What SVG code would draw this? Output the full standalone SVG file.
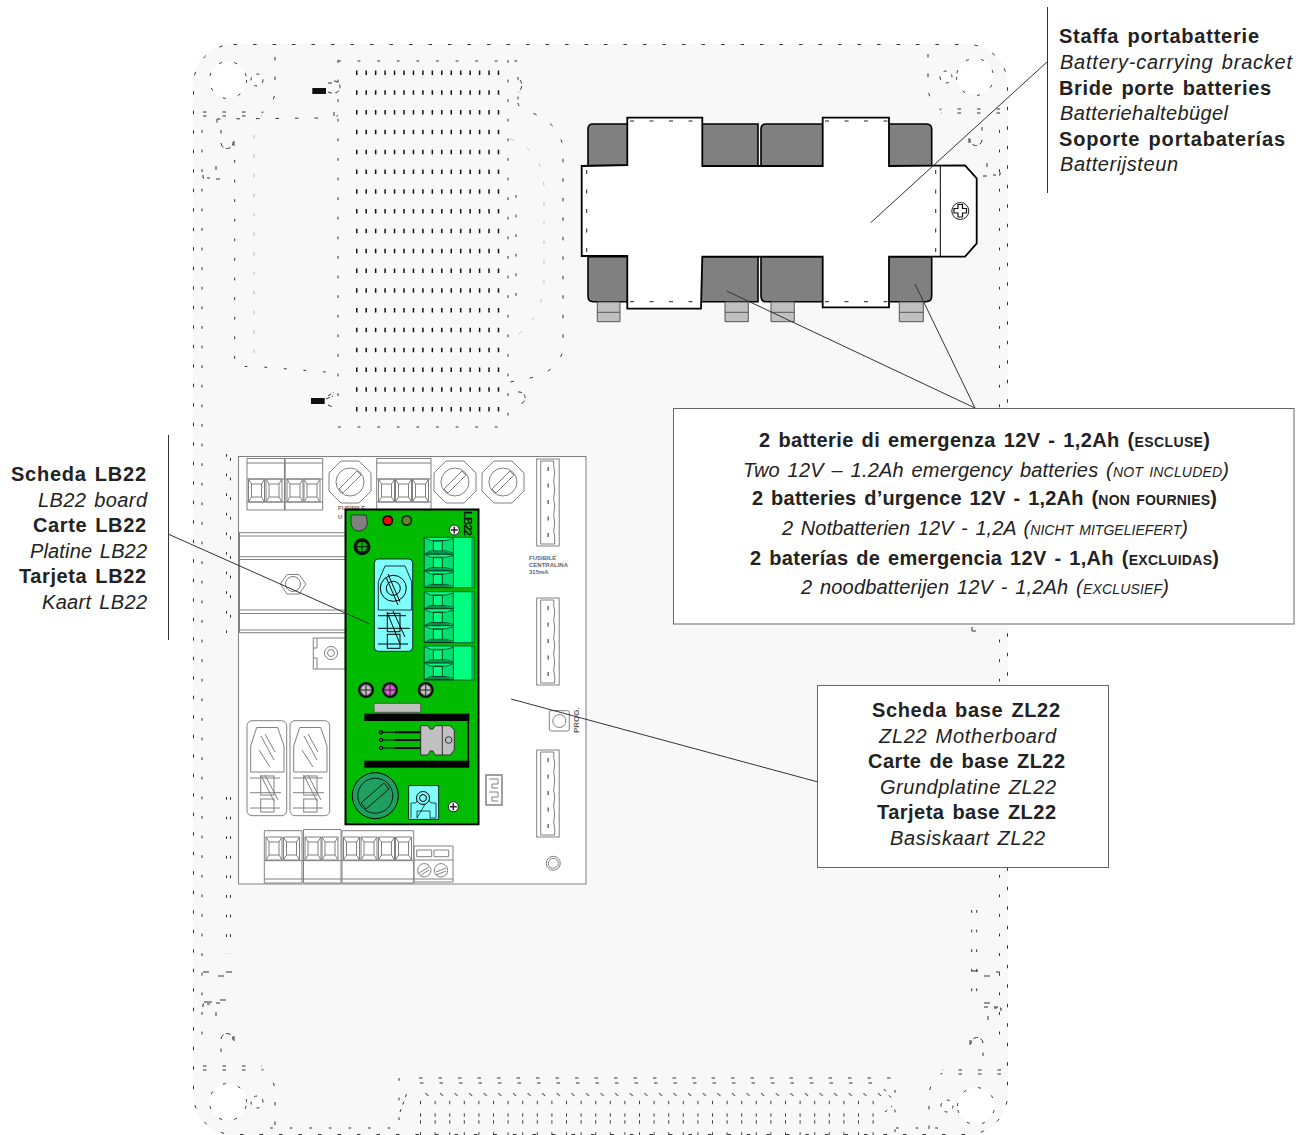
<svg xmlns="http://www.w3.org/2000/svg" xmlns:xlink="http://www.w3.org/1999/xlink" width="1310" height="1135" viewBox="0 0 1310 1135">
<style>
.d{fill:none;stroke:#333;stroke-width:1;stroke-dasharray:3.5 16}
.v{fill:none;stroke:#333;stroke-width:1;stroke-dasharray:2.800 16.800}
.g{fill:none;stroke:#bbb;stroke-width:1;stroke-dasharray:3.500 16}
.vent{fill:none;stroke:#111;stroke-width:4.500;stroke-dasharray:1.500 7.950}
.vm{fill:none;stroke:#444;stroke-width:3.500;stroke-dasharray:1 13.600}
.b{fill:#fff;stroke:#808080;stroke-width:1}
.n{fill:none;stroke:#808080;stroke-width:1}
.bat{fill:#808080;stroke:#000;stroke-width:1.6}
.ter{fill:#c0c0c0;stroke:#555;stroke-width:1}
.k{fill:none;stroke:#000;stroke-width:1}
.gc{fill:#00ff80;stroke:#006030;stroke-width:1}
.ld{fill:none;stroke:#333;stroke-width:1}
.box{fill:#fff;stroke:#666;stroke-width:1}
text{font-family:"Liberation Sans",Arial,sans-serif;fill:#222;font-size:20px;word-spacing:2px}
.bd{font-weight:bold}
.it{font-style:italic}
.sm{font-size:14px}
.tiny{font-size:6px;font-weight:bold;fill:#666;word-spacing:0}
</style>
<defs>
<g id="corner">
<circle cx="228" cy="80" r="18.5" fill="#fff"/>
<circle cx="257" cy="80" r="5" fill="#fff"/>
<circle cx="228" cy="80" r="18.5" class="d" style="stroke-dasharray:3 12.5"/>
<circle cx="257" cy="80" r="6" class="d" style="stroke-dasharray:3 6"/>
<path class="d" d="M275 57V93Q273 105 262 113"/>
<path class="d" d="M203 112H262M203 116H262"/>
<path d="M203 175V178H210M216 179H220V177M216 166V170" fill="none" stroke="#333" stroke-dasharray="4 3"/>
<path d="M221 143A6 6 0 0 0 233 142M234 141V146" fill="none" stroke="#333" stroke-dasharray="5 2.500"/>
<path class="d" d="M221 130V143"/>
</g>
<g id="plus"><circle r="5" fill="#fff" stroke="#222"/><path d="M-3.5 0H3.5M0-3.5V3.5" stroke="#222" stroke-width="1.5"/></g>
<g id="dscrew"><circle r="8" fill="#111"/><circle r="5.5" fill="#c0c0c0" stroke="#444"/><path d="M-5 0H5M0-5V5" stroke="#222"/></g>
<g id="fuse"><polygon points="-9,-21 9,-21 21,-9 21,9 9,21 -9,21 -21,9 -21,-9" fill="#fff" stroke="#808080"/><circle r="14" fill="#fff" stroke="#808080"/><path d="M-11 7L7-11M-7 11L11-7M-11 7L-7 11M7-11L11-7" fill="none" stroke="#808080"/></g>
<g id="cell"><path d="M0 0H16V23H0ZM3 5H13V18H3ZM0 0L3 5M16 0L13 5M0 23L3 18M16 23L13 18" class="n"/></g>
<g id="conn"><rect width="22.5" height="87" class="b"/><path class="n" d="M4 2V85H18L18 78L17 72L18 64L17 56L18 47L17 40L18 30L17 22L18 14L17 7V2Z"/><path stroke="#777" stroke-width="1.6" stroke-dasharray="4 12.5" d="M11.5 8V82"/></g>
<g id="gcell"><path d="M0 0L6 3H22L29 1V15.500L22 13.500H6L0 16.700Z" fill="#00e070" stroke="#006030"/><rect x="9" y="3.500" width="9" height="10" fill="#00ff80" stroke="#004020"/><path d="M0 16.700L6 14H22L29 16.700Z" fill="#009050"/><path d="M0 16.700H29" stroke="#003018" stroke-width="1"/></g>
<g id="relay"><rect x="247" y="720.7" width="39.7" height="95" rx="5" class="b"/><path class="n" d="M250.7 772V746L256.700 727.500H277.700L284 746V772ZM261 736L274 760M265 734L275 752M259 750L270 767"/><path class="n" d="M250 778H280M250 792.700H281M250 808H280"/><rect x="260.700" y="776" width="13.300" height="19" class="n"/><rect x="260.700" y="799" width="13.300" height="13" class="n"/><path class="n" d="M260.700 775L274 801M265 775L278 800"/></g>
<pattern id="diag" width="14.6" height="6" patternUnits="userSpaceOnUse"><path d="M2 1L5 4" stroke="#333" stroke-width="1"/></pattern>
</defs>

<g id="enclosure">
<rect x="193" y="44" width="815" height="1091" rx="40" fill="#f8f8f8"/>
<rect x="193.500" y="44.500" width="814" height="1090" rx="40" class="d"/>
<use xlink:href="#corner" href="#corner"/>
<use xlink:href="#corner" href="#corner" transform="translate(1203,-3) scale(-1,1)"/>
<use xlink:href="#corner" href="#corner" transform="translate(0,1182) scale(1,-1)"/>
<use xlink:href="#corner" href="#corner" transform="translate(1204,1186) scale(-1,-1)"/>
<path class="d" d="M217 119V124M217 119L318 118"/>
<path class="v" d="M202 130V1050M999.500 130V1050"/>
<path class="v" d="M234.700 160V365Q236 368 250 366L338 373"/>
<path class="g" d="M254 135V355"/>
<path class="v" d="M338 60V410M508 60V425M338 427H510M338 61H518V105"/>
<path class="d" d="M518 103Q518 108 530 112Q563 125 563 152V345Q563 370 530 378L510 382"/>
<path class="g" d="M510 139Q544 150 544 190V280Q544 320 510 340"/>
<path class="v" d="M516 195V300"/>
<rect x="312.300" y="88" width="13.700" height="6" fill="#111"/>
<rect x="311" y="398" width="13.700" height="6" fill="#111"/>
<path d="M334 81A6 6 0 0 1 334 93M328 83H333M328 92L334 94M334 112V116H338M328 396L334 392M326 399L333 396M328 405L333 407M520 80A8 8 0 0 1 518 92M518 392A6 6 0 0 1 520 404" fill="none" stroke="#333" stroke-dasharray="4 2.500"/>
<g id="vents">
<path class="vent" d="M356 72.700H500M356 92.500H500M356 112.300H500M356 132.100H500M356 151.900H500M356 171.700H500M356 191.500H500M356 211.300H500M356 231.100H500M356 250.900H500M356 270.700H500M356 290.500H500M356 310.300H500M356 330.100H500M356 349.900H500M356 369.700H500M356 389.500H500M356 409.300H500"/>
</g>
<path class="v" d="M226.500 454V633M230.500 458V628M226.500 797V954M230.500 797V954M971.700 910V1000M976.700 910V1000"/>
<path d="M972 627V631H976M203 972H209M218 976H224M226 972H232M204 1002H212M220 1000H226M972 971H978M984 976H990M996 972H1000M984 1003H990M994 1007H998" fill="none" stroke="#333"/>
<path class="d" d="M419 1078H895M420 1083H880"/>
<rect x="415" y="1093" width="475" height="6" fill="url(#diag)"/>
<path class="vm" d="M420 1102.500H880M420 1115H880M420 1122H880M420 1134H880"/>
<path class="v" d="M399 1078V1135M895 1090V1135M270 1128H395M896 1128H950"/>
<path d="M400 1112L408 1090M884 1089L892 1099M885 1112L892 1106" fill="none" stroke="#333" stroke-dasharray="3 5"/>
</g>

<g id="batteries">
<path class="bat" d="M588 129Q588 124 593 124H758V167H588Z"/>
<path class="bat" d="M761 129Q761 124 766 124H926Q931.700 124 931.700 129V167H761Z"/>
<path class="bat" d="M588 256.700H758V301.700H593Q588 301.700 588 296Z"/>
<path class="bat" d="M761 256.700H931.700V296Q931.700 301.700 926 301.700H766Q761 301.700 761 296Z"/>
<g id="battery-terminals">
<path class="ter" d="M597.300 302H620V321.700H597.300ZM597.300 312.300H620"/>
<path class="ter" d="M725 302H748.300V321.700H725ZM725 312.300H748.300"/>
<path class="ter" d="M771 302H794.300V321.700H771ZM771 312.300H794.300"/>
<path class="ter" d="M899.300 302H923.300V321.700H899.300ZM899.300 312.300H923.300"/>
</g>
</g>

<g id="bracket">
<path fill="#fff" stroke="#000" stroke-width="1.800" d="M581.700 166L627.300 165V117.700H702.300V166H822.700V117.700H889V166L965 165.300L976.700 178.300V243.300L965 256.700H889V307.300H822.700V256.700H702.300L701 308.700H627.300V256H581.700Z"/>
<path d="M940.300 165V257" stroke="#000" stroke-width="1"/>
<path d="M935.700 170V253M586.700 170V253M630 121H702M825 121H889M630 301.700H700M825 301.700H888" stroke="#222" fill="none" stroke-dasharray="4 15.500"/>
<circle cx="960.300" cy="211" r="8.500" fill="#fff" stroke="#222"/>
<path d="M958 204.500H962.500V208.500H966.500V213H962.500V217H958V213H954V208.500H958Z" fill="#fff" stroke="#111" stroke-width="1.200"/>
</g>

<g id="board-zl22">
<rect x="238.500" y="456.500" width="347.500" height="427.500" class="b"/>
<g id="terminals-top">
<path class="n" d="M247 458.500H284.700V510H247ZM284.700 458.500H322.700V510H284.700ZM247 463H322.700M247 479H322.700M247 502H322.700"/>
<path stroke="#808080" stroke-width="1.500" d="M284.700 458V510"/>
<use xlink:href="#cell" href="#cell" x="248.500" y="479"/><use xlink:href="#cell" href="#cell" x="266" y="479"/><use xlink:href="#cell" href="#cell" x="287" y="479"/><use xlink:href="#cell" href="#cell" x="304" y="479"/>
<path class="n" d="M376.700 458.500H431V510H376.700ZM376.700 463H431M376.700 479H431M376.700 502H431"/>
<use xlink:href="#cell" href="#cell" x="378.500" y="479"/><use xlink:href="#cell" href="#cell" x="395.500" y="479"/><use xlink:href="#cell" href="#cell" x="412.500" y="479"/>
</g>
<use xlink:href="#fuse" href="#fuse" x="350" y="482"/>
<use xlink:href="#fuse" href="#fuse" x="455" y="482"/>
<use xlink:href="#fuse" href="#fuse" x="503" y="482"/>
<text class="tiny" x="338" y="510">FUSIBILE</text>
<text class="tiny" x="338" y="519">U</text>
<use xlink:href="#conn" href="#conn" x="536.700" y="459"/>
<use xlink:href="#conn" href="#conn" x="536.700" y="598"/>
<use xlink:href="#conn" href="#conn" x="536.700" y="750"/>
<text class="tiny" x="529" y="560">FUSIBILE</text>
<text class="tiny" x="529" y="567">CENTRALINA</text>
<text class="tiny" x="529" y="574">315mA</text>
<g id="din-bar">
<path class="n" d="M239 532.700H345M239 536H345M239 556.700H345M239 559.500H345M239 610H345M239 613.500H345M239 630H345M239 632.700H345"/>
<path stroke="#808080" stroke-width="2" d="M239 533V632"/>
<polygon points="280.500,584 287,574.500 299,574.500 306,584 299,594 287,594" fill="#fff" stroke="#808080"/>
<circle cx="293" cy="584" r="7.500" class="b"/>
</g>
<rect x="313.300" y="638" width="32" height="31" class="b"/>
<path class="n" d="M317 638V648H313.300M317 669V658H313.300"/>
<circle cx="331" cy="653" r="6.500" class="n"/><circle cx="331" cy="653" r="3.500" class="n"/>
<use xlink:href="#relay" href="#relay"/>
<use xlink:href="#relay" href="#relay" x="43"/>
<g id="terminals-bottom">
<path class="n" d="M264.300 830.700H302V883H264.300ZM303.500 829.500H341V883H303.500ZM342 830.700H413.700V883H342ZM264.300 860.700H413.700M264.300 879H413.700"/>
<use xlink:href="#cell" href="#cell" x="266" y="837"/><use xlink:href="#cell" href="#cell" x="283.500" y="837"/>
<use xlink:href="#cell" href="#cell" x="305" y="837"/><use xlink:href="#cell" href="#cell" x="322" y="837"/>
<use xlink:href="#cell" href="#cell" x="343.500" y="837"/><use xlink:href="#cell" href="#cell" x="361" y="837"/><use xlink:href="#cell" href="#cell" x="378.500" y="837"/><use xlink:href="#cell" href="#cell" x="395.500" y="837"/>
<path class="n" d="M414 846H453V882H414ZM414 860H453M414 879H453M416.700 850H431.700V856.700H416.700ZM434 850H448.700V856.700H434Z"/>
<circle cx="424.300" cy="870.300" r="6.700" class="n"/><circle cx="441" cy="870.300" r="6.700" class="n"/>
<path class="n" d="M419 873L429 867M421 875L429 870M436 872L446 868M436 875L446 871"/>
</g>
<rect x="549.300" y="710.700" width="20" height="20.300" rx="2" class="b"/>
<circle cx="559.300" cy="721" r="6.500" class="n"/>
<text class="tiny" transform="translate(579,733) rotate(-90)" style="font-size:8px">PROG.</text>
<rect x="486" y="775" width="16" height="30" class="b" style="stroke-width:1.500"/>
<path class="n" d="M489 779H498V784H492V788H498M489 792H498V797H492V801H498"/>
<circle cx="553.300" cy="863.300" r="7" class="n"/><circle cx="553.300" cy="863.300" r="5" class="n"/>
</g>

<g id="board-lb22">
<rect x="345.500" y="509.500" width="133" height="314.800" fill="#00bb00" stroke="#000" stroke-width="2"/>
<path d="M351 515H366L367.500 523Q366 531 359 531Q352 531 351 523Z" fill="#808080" stroke="#333"/>
<circle cx="387.700" cy="520.500" r="5.500" fill="#000"/><circle cx="387.700" cy="520.500" r="3.800" fill="#f00"/>
<circle cx="406.700" cy="520.500" r="5.500" fill="#222"/><circle cx="406.700" cy="520.500" r="3.800" fill="#5b8c1e"/>
<text class="bd" transform="translate(463.500,511) rotate(90)" textLength="25" style="font-size:11.500px;fill:#111">LB22</text>
<use xlink:href="#plus" href="#plus" x="454.300" y="530"/>
<circle cx="362" cy="546.700" r="8.500" fill="#111"/><circle cx="362" cy="546.700" r="5.500" fill="#00bb00" stroke="#111"/><path d="M356.500 546.700H367.500M362 541V552" stroke="#111"/>
<g id="lb22-relay">
<rect x="374.300" y="559" width="38.400" height="92.300" rx="4" fill="#80ffff" stroke="#000" stroke-width="0.800"/>
<path class="k" style="stroke-width:0.800" d="M378.300 610V581.700L385 566H405L411.700 581.700V610Z"/>
<circle cx="393.300" cy="588.300" r="13" class="k"/><circle cx="393.300" cy="588.300" r="7" class="k"/>
<path class="k" d="M388 574L400 602M386 577L398 605M387 612L400 644M393 611L405 637M378 615.700H406M378 628.300H410M378 644H408"/>
<rect x="387.300" y="613.300" width="12.700" height="18.400" class="k"/><rect x="387.300" y="634.300" width="12.700" height="14" class="k"/>
</g>
<g id="green-connectors">
<rect x="424.300" y="537.300" width="49.700" height="50.400" class="gc"/>
<rect x="424.300" y="591.700" width="49.700" height="51" class="gc"/>
<rect x="424.300" y="646" width="49.700" height="34" class="gc"/>
<path d="M453.300 537.300V587.700M453.300 591.700V642.700M453.300 646V680M472 537.300V587.700M472 591.700V642.700M472 646V680" stroke="#006030" fill="none"/>
<use xlink:href="#gcell" href="#gcell" x="424.300" y="537.500"/><use xlink:href="#gcell" href="#gcell" x="424.300" y="554.200"/><use xlink:href="#gcell" href="#gcell" x="424.300" y="570.900"/>
<use xlink:href="#gcell" href="#gcell" x="424.300" y="592"/><use xlink:href="#gcell" href="#gcell" x="424.300" y="609"/><use xlink:href="#gcell" href="#gcell" x="424.300" y="625.800"/>
<use xlink:href="#gcell" href="#gcell" x="424.300" y="646.300"/><use xlink:href="#gcell" href="#gcell" x="424.300" y="663"/>
</g>
<use xlink:href="#dscrew" href="#dscrew" x="366" y="690"/>
<g transform="translate(390,690)"><circle r="8" fill="#111"/><circle r="5.500" fill="#e060e0" stroke="#444"/><path d="M-5 0H5M0-5V5" stroke="#222"/></g>
<use xlink:href="#dscrew" href="#dscrew" x="425.700" y="690"/>
<rect x="374" y="703.300" width="46.700" height="9" rx="1" fill="#c0c0c0" stroke="#555"/>
<rect x="364.300" y="713.700" width="105" height="7.300" fill="#000"/>
<rect x="364.300" y="760.700" width="105" height="7" fill="#000"/>
<path d="M468.300 720V762" stroke="#000" stroke-width="1.500"/>
<path d="M381 732.300H421M381 740H421M381 748H421" stroke="#000" stroke-width="1"/>
<path d="M395 732.300H421M395 740H421M395 748H421" stroke="#000" stroke-width="2"/>
<circle cx="381" cy="732.300" r="1.700" fill="#555" stroke="#000"/><circle cx="381" cy="740" r="1.700" fill="#555" stroke="#000"/><circle cx="381" cy="748" r="1.700" fill="#555" stroke="#000"/>
<path d="M420.700 725.700H428L430 729H433L435 725.700H450L454.300 730V750L450 755H435L433 751H430L428 755H420.700Z" fill="#c0c0c0" stroke="#333"/>
<path d="M442.300 725.700V755" stroke="#333"/><circle cx="448.700" cy="740" r="3.300" fill="none" stroke="#333"/>
<circle cx="375.300" cy="795.700" r="23" fill="#20a060" stroke="#000" stroke-width="1"/><circle cx="375.300" cy="795.700" r="17.500" fill="#20a060" stroke="#000" stroke-width="0.800"/>
<path d="M361 803L384 783L389 789L366 809Z" fill="#20a060" stroke="#000" stroke-width="0.800"/>
<rect x="408.700" y="785.700" width="30" height="33.600" fill="#80ffff" stroke="#000" stroke-width="0.800"/>
<path class="k" style="stroke-width:0.700" d="M411 818V803H416L418 799M428 799L431 803H436V818H430V811H417V818Z"/>
<circle cx="423" cy="798" r="6.500" fill="#80ffff" stroke="#000"/><circle cx="423" cy="798" r="3.500" fill="none" stroke="#000"/>
<use xlink:href="#plus" href="#plus" x="453.300" y="806.700"/>
</g>

<g id="connectors">
<path class="ld" d="M1047 62L870.700 222.700"/>
<path class="ld" d="M726.700 291L975 408M915 284L975 408"/>
<path class="ld" d="M168 534L370 624"/>
<path class="ld" d="M511 699L818 782"/>
<path class="ld" d="M1047.500 7V193"/>
<path class="ld" d="M168.500 435V640"/>
</g>

<g id="label-bracket">
<text class="bd" x="1059" y="43" textLength="200">Staffa portabatterie</text>
<text class="it" x="1060" y="69" textLength="232">Battery-carrying bracket</text>
<text class="bd" x="1059" y="95" textLength="212">Bride porte batteries</text>
<text class="it" x="1060" y="120" textLength="168">Batteriehaltebügel</text>
<text class="bd" x="1059" y="146" textLength="226">Soporte portabaterías</text>
<text class="it" x="1060" y="171" textLength="118">Batterijsteun</text>
</g>

<g id="label-lb22">
<text class="bd" x="11" y="481" textLength="135">Scheda LB22</text>
<text class="it" x="38" y="507" textLength="109">LB22 board</text>
<text class="bd" x="33" y="532" textLength="113">Carte LB22</text>
<text class="it" x="30" y="558" textLength="117">Platine LB22</text>
<text class="bd" x="19" y="583" textLength="127">Tarjeta LB22</text>
<text class="it" x="42" y="609" textLength="105">Kaart LB22</text>
</g>

<g id="label-batteries">
<rect x="673.500" y="408.500" width="620.500" height="215.500" class="box"/>
<text class="bd" x="759" y="447" textLength="451">2 batterie di emergenza 12V - 1,2Ah (<tspan class="sm">ESCLUSE</tspan>)</text>
<text class="it" x="743" y="477" textLength="486">Two 12V – 1.2Ah emergency batteries (<tspan class="sm">NOT INCLUDED</tspan>)</text>
<text class="bd" x="752" y="505" textLength="465">2 batteries d’urgence 12V - 1,2Ah (<tspan class="sm">NON FOURNIES</tspan>)</text>
<text class="it" x="782" y="535" textLength="406">2 Notbatterien 12V - 1,2A (<tspan class="sm">NICHT MITGELIEFERT</tspan>)</text>
<text class="bd" x="750" y="565" textLength="469">2 baterías de emergencia 12V - 1,Ah (<tspan class="sm">EXCLUIDAS</tspan>)</text>
<text class="it" x="801" y="594" textLength="368">2 noodbatterijen 12V - 1,2Ah (<tspan class="sm">EXCLUSIEF</tspan>)</text>
</g>

<g id="label-zl22">
<rect x="817.500" y="685.500" width="291" height="182" class="box"/>
<text class="bd" x="872" y="717" textLength="188">Scheda base ZL22</text>
<text class="it" x="879" y="743" textLength="177">ZL22 Motherboard</text>
<text class="bd" x="868" y="768" textLength="197">Carte de base ZL22</text>
<text class="it" x="880" y="794" textLength="176">Grundplatine ZL22</text>
<text class="bd" x="877" y="819" textLength="179">Tarjeta base ZL22</text>
<text class="it" x="890" y="845" textLength="155">Basiskaart ZL22</text>
</g>
</svg>
